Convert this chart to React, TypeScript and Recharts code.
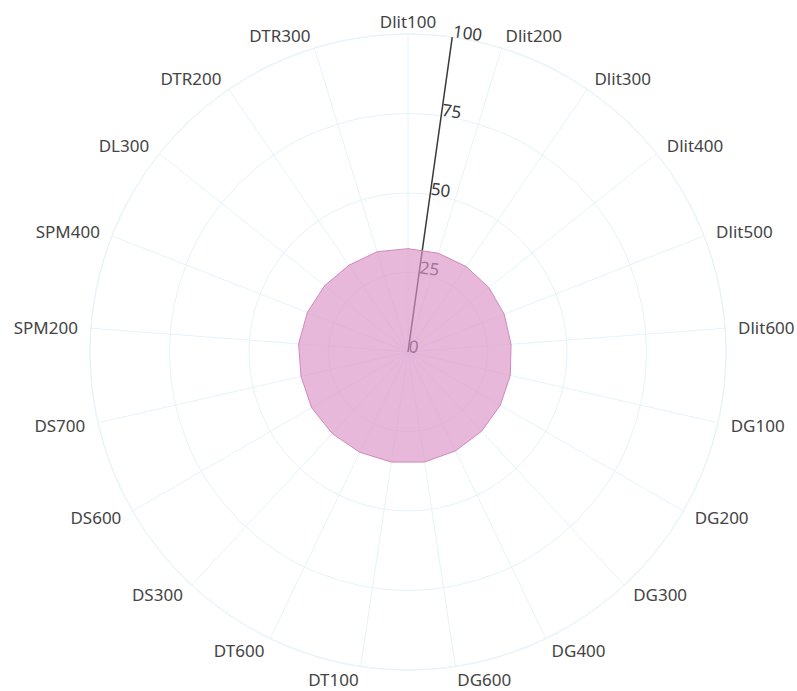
import {
  Radar,
  RadarChart,
  PolarGrid,
  PolarAngleAxis,
  PolarRadiusAxis,
} from "recharts";

const categories = [
  "Dlit100",
  "Dlit200",
  "Dlit300",
  "Dlit400",
  "Dlit500",
  "Dlit600",
  "DG100",
  "DG200",
  "DG300",
  "DG400",
  "DG600",
  "DT100",
  "DT600",
  "DS300",
  "DS600",
  "DS700",
  "SPM200",
  "SPM400",
  "DL300",
  "DTR200",
  "DTR300",
];

const scores = [
  32.5, 32.5, 32.5, 32.5, 32.5, 32.5, 33, 33.5, 34, 34.5, 35, 35, 35, 35, 35,
  34.5, 34.5, 34, 33.5, 33, 33,
];

const radiusTicks = [0, 25, 50, 75, 100];

const COLORS = {
  grid: "#e6f3f9",
  text: "#444444",
  axis: "#3a3a3a",
  fill: "#db92c7",
  stroke: "#d088bb",
};

const data = categories.map((name, i) => ({ name, score: scores[i] }));

function AngleTick({ x, y, payload, textAnchor }: any) {
  return (
    <text
      x={x}
      y={y}
      textAnchor={textAnchor}
      dominantBaseline="central"
      fontSize={17}
      fill={COLORS.text}
    >
      {payload.value}
    </text>
  );
}

export default function App() {
  return (
    <div style={{ fontFamily: "'Noto Sans', sans-serif" }}>
      <style>{"body { margin: 0; overflow: hidden; }"}</style>
      <RadarChart
        width={797}
        height={691}
        cx={408}
        cy={352}
        outerRadius={318}
        data={data}
      >
        <PolarGrid stroke={COLORS.grid} gridType="circle" />
        <PolarAngleAxis
          dataKey="name"
          tick={<AngleTick />}
          tickLine={false}
          tickSize={13}
          axisLineType="circle"
          stroke={COLORS.grid}
        />
        <PolarRadiusAxis
          angle={82}
          domain={[0, 100]}
          ticks={radiusTicks as any}
          stroke={COLORS.axis}
          axisLine={{ stroke: COLORS.axis, strokeWidth: 1.5 }}
          tick={{ fill: COLORS.axis, fontSize: 17 }}
        />
        <Radar
          dataKey="score"
          stroke={COLORS.stroke}
          fill={COLORS.fill}
          fillOpacity={0.65}
          isAnimationActive={false}
          {...({ zIndex: 600 } as any)}
        />
      </RadarChart>
    </div>
  );
}
